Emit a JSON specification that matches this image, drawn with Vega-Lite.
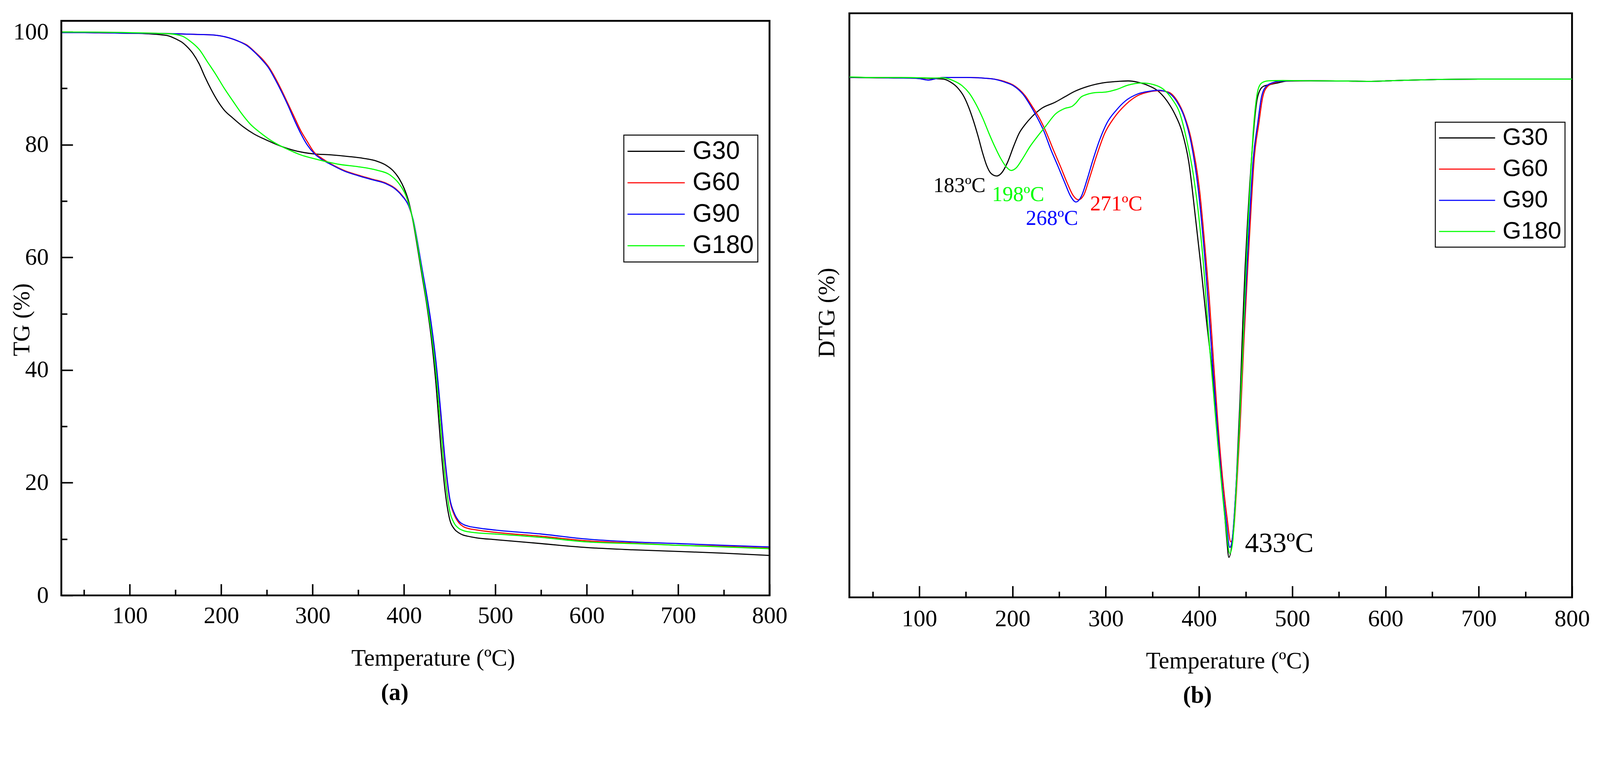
{
  "$schema": "https://vega.github.io/schema/vega-lite/v6.json",
  "background": "white",
  "padding": {"left": 26, "top": 31, "right": 0, "bottom": 0},
  "config": {
    "font": "Liberation Serif",
    "axis": {
      "labelFont": "Liberation Serif", "labelFontSize": 60.5, "labelColor": "black", "labelFlush": false, "labelOverlap": false,
      "titleFont": "Liberation Serif", "titleFontSize": 60.5, "titleFontWeight": "normal", "titleColor": "black",
      "grid": false, "domain": false, "tickColor": "black", "tickWidth": 3.8
    },
    "legend": {"labelFont": "Liberation Sans", "labelColor": "black", "labelLimit": 0, "strokeColor": "black", "strokeWidth": 2.4}
  },
  "datasets": {
    "tg": [
      {"s":"G30","T":25,"v":99.9},{"s":"G30","T":50,"v":99.9},{"s":"G30","T":80,"v":99.85},{"s":"G30","T":100,"v":99.8},{"s":"G30","T":120,"v":99.7},{"s":"G30","T":135,"v":99.5},{"s":"G30","T":143,"v":99.3},{"s":"G30","T":152,"v":98.65},{"s":"G30","T":157,"v":98.2},{"s":"G30","T":162,"v":97.5},{"s":"G30","T":169,"v":96.2},{"s":"G30","T":176,"v":94.3},{"s":"G30","T":182,"v":92.1},{"s":"G30","T":189,"v":89.8},{"s":"G30","T":196,"v":87.8},{"s":"G30","T":203,"v":86.2},{"s":"G30","T":213,"v":84.7},{"s":"G30","T":224,"v":83.2},{"s":"G30","T":236,"v":81.9},{"s":"G30","T":250,"v":80.8},{"s":"G30","T":266,"v":79.7},{"s":"G30","T":282,"v":78.9},{"s":"G30","T":300,"v":78.4},{"s":"G30","T":320,"v":78.2},{"s":"G30","T":340,"v":77.9},{"s":"G30","T":355,"v":77.6},{"s":"G30","T":370,"v":77.1},{"s":"G30","T":380,"v":76.4},{"s":"G30","T":388,"v":75.4},{"s":"G30","T":395,"v":73.9},{"s":"G30","T":400,"v":72.3},{"s":"G30","T":405,"v":70.0},{"s":"G30","T":410,"v":66.3},{"s":"G30","T":415,"v":61.5},{"s":"G30","T":420,"v":56.5},{"s":"G30","T":425,"v":51.5},{"s":"G30","T":430,"v":45.5},{"s":"G30","T":435,"v":37.5},{"s":"G30","T":440,"v":27.0},{"s":"G30","T":445,"v":18.5},{"s":"G30","T":450,"v":13.5},{"s":"G30","T":455,"v":11.8},{"s":"G30","T":460,"v":11.1},{"s":"G30","T":465,"v":10.7},{"s":"G30","T":470,"v":10.5},{"s":"G30","T":480,"v":10.2},{"s":"G30","T":500,"v":9.9},{"s":"G30","T":550,"v":9.2},{"s":"G30","T":600,"v":8.5},{"s":"G30","T":650,"v":8.1},{"s":"G30","T":700,"v":7.8},{"s":"G30","T":750,"v":7.5},{"s":"G30","T":800,"v":7.1},
      {"s":"G60","T":25,"v":99.9},{"s":"G60","T":50,"v":99.9},{"s":"G60","T":100,"v":99.8},{"s":"G60","T":150,"v":99.7},{"s":"G60","T":170,"v":99.6},{"s":"G60","T":190,"v":99.5},{"s":"G60","T":208,"v":99.0},{"s":"G60","T":220,"v":98.3},{"s":"G60","T":229,"v":97.6},{"s":"G60","T":238,"v":96.3},{"s":"G60","T":245,"v":95.2},{"s":"G60","T":252,"v":93.8},{"s":"G60","T":259,"v":91.9},{"s":"G60","T":266,"v":89.7},{"s":"G60","T":273,"v":87.3},{"s":"G60","T":280,"v":84.9},{"s":"G60","T":287,"v":82.5},{"s":"G60","T":294,"v":80.6},{"s":"G60","T":302,"v":78.6},{"s":"G60","T":310,"v":77.6},{"s":"G60","T":320,"v":76.6},{"s":"G60","T":335,"v":75.4},{"s":"G60","T":350,"v":74.6},{"s":"G60","T":365,"v":73.9},{"s":"G60","T":380,"v":73.2},{"s":"G60","T":390,"v":72.3},{"s":"G60","T":398,"v":71.0},{"s":"G60","T":405,"v":69.2},{"s":"G60","T":410,"v":66.6},{"s":"G60","T":415,"v":62.3},{"s":"G60","T":420,"v":57.5},{"s":"G60","T":425,"v":52.8},{"s":"G60","T":430,"v":47.5},{"s":"G60","T":435,"v":41.0},{"s":"G60","T":440,"v":32.5},{"s":"G60","T":445,"v":23.5},{"s":"G60","T":450,"v":17.0},{"s":"G60","T":455,"v":14.3},{"s":"G60","T":460,"v":12.9},{"s":"G60","T":465,"v":12.2},{"s":"G60","T":470,"v":11.9},{"s":"G60","T":480,"v":11.6},{"s":"G60","T":500,"v":11.2},{"s":"G60","T":550,"v":10.5},{"s":"G60","T":600,"v":9.7},{"s":"G60","T":650,"v":9.3},{"s":"G60","T":700,"v":8.9},{"s":"G60","T":750,"v":8.7},{"s":"G60","T":800,"v":8.4},
      {"s":"G90","T":25,"v":99.9},{"s":"G90","T":50,"v":99.9},{"s":"G90","T":100,"v":99.8},{"s":"G90","T":150,"v":99.7},{"s":"G90","T":170,"v":99.6},{"s":"G90","T":190,"v":99.5},{"s":"G90","T":208,"v":99.0},{"s":"G90","T":220,"v":98.3},{"s":"G90","T":229,"v":97.5},{"s":"G90","T":238,"v":96.2},{"s":"G90","T":245,"v":95.0},{"s":"G90","T":252,"v":93.6},{"s":"G90","T":259,"v":91.6},{"s":"G90","T":266,"v":89.4},{"s":"G90","T":273,"v":87.0},{"s":"G90","T":280,"v":84.4},{"s":"G90","T":287,"v":82.0},{"s":"G90","T":294,"v":80.0},{"s":"G90","T":302,"v":78.4},{"s":"G90","T":310,"v":77.4},{"s":"G90","T":320,"v":76.5},{"s":"G90","T":335,"v":75.3},{"s":"G90","T":350,"v":74.5},{"s":"G90","T":365,"v":73.8},{"s":"G90","T":380,"v":73.1},{"s":"G90","T":390,"v":72.2},{"s":"G90","T":398,"v":70.9},{"s":"G90","T":405,"v":69.2},{"s":"G90","T":410,"v":66.7},{"s":"G90","T":415,"v":62.5},{"s":"G90","T":420,"v":57.8},{"s":"G90","T":425,"v":53.2},{"s":"G90","T":430,"v":48.0},{"s":"G90","T":435,"v":41.5},{"s":"G90","T":440,"v":33.0},{"s":"G90","T":445,"v":24.0},{"s":"G90","T":450,"v":17.3},{"s":"G90","T":455,"v":14.6},{"s":"G90","T":460,"v":13.2},{"s":"G90","T":465,"v":12.6},{"s":"G90","T":470,"v":12.3},{"s":"G90","T":480,"v":12.0},{"s":"G90","T":500,"v":11.6},{"s":"G90","T":550,"v":10.9},{"s":"G90","T":600,"v":10.0},{"s":"G90","T":650,"v":9.5},{"s":"G90","T":700,"v":9.2},{"s":"G90","T":750,"v":8.9},{"s":"G90","T":800,"v":8.6},
      {"s":"G180","T":25,"v":100.0},{"s":"G180","T":50,"v":100.0},{"s":"G180","T":100,"v":99.9},{"s":"G180","T":143,"v":99.7},{"s":"G180","T":157,"v":99.3},{"s":"G180","T":166,"v":98.4},{"s":"G180","T":176,"v":96.9},{"s":"G180","T":185,"v":94.7},{"s":"G180","T":194,"v":92.5},{"s":"G180","T":203,"v":90.1},{"s":"G180","T":213,"v":87.7},{"s":"G180","T":222,"v":85.6},{"s":"G180","T":231,"v":83.8},{"s":"G180","T":243,"v":82.1},{"s":"G180","T":254,"v":80.8},{"s":"G180","T":266,"v":79.7},{"s":"G180","T":278,"v":78.8},{"s":"G180","T":287,"v":78.2},{"s":"G180","T":300,"v":77.6},{"s":"G180","T":315,"v":77.0},{"s":"G180","T":330,"v":76.5},{"s":"G180","T":350,"v":76.1},{"s":"G180","T":370,"v":75.5},{"s":"G180","T":385,"v":74.6},{"s":"G180","T":395,"v":73.0},{"s":"G180","T":402,"v":71.0},{"s":"G180","T":405,"v":69.6},{"s":"G180","T":410,"v":66.5},{"s":"G180","T":415,"v":62.0},{"s":"G180","T":420,"v":57.0},{"s":"G180","T":425,"v":52.0},{"s":"G180","T":430,"v":46.5},{"s":"G180","T":435,"v":39.5},{"s":"G180","T":440,"v":30.0},{"s":"G180","T":445,"v":21.0},{"s":"G180","T":450,"v":15.0},{"s":"G180","T":455,"v":12.8},{"s":"G180","T":460,"v":11.9},{"s":"G180","T":465,"v":11.5},{"s":"G180","T":470,"v":11.3},{"s":"G180","T":480,"v":11.1},{"s":"G180","T":500,"v":10.9},{"s":"G180","T":550,"v":10.3},{"s":"G180","T":600,"v":9.5},{"s":"G180","T":650,"v":9.2},{"s":"G180","T":700,"v":8.9},{"s":"G180","T":750,"v":8.6},{"s":"G180","T":800,"v":8.3}
    ],
    "dtg": [
      {"s":"G30","T":25,"v":0.0},{"s":"G30","T":50,"v":-0.005},{"s":"G30","T":80,"v":-0.01},{"s":"G30","T":100,"v":-0.01},{"s":"G30","T":115,"v":-0.02},{"s":"G30","T":126,"v":-0.03},{"s":"G30","T":133,"v":-0.078},{"s":"G30","T":141,"v":-0.185},{"s":"G30","T":148,"v":-0.35},{"s":"G30","T":153,"v":-0.54},{"s":"G30","T":158,"v":-0.78},{"s":"G30","T":163,"v":-1.06},{"s":"G30","T":168,"v":-1.37},{"s":"G30","T":172,"v":-1.58},{"s":"G30","T":177,"v":-1.735},{"s":"G30","T":183,"v":-1.78},{"s":"G30","T":188.5,"v":-1.72},{"s":"G30","T":194.7,"v":-1.53},{"s":"G30","T":201,"v":-1.25},{"s":"G30","T":207,"v":-1.01},{"s":"G30","T":213.5,"v":-0.85},{"s":"G30","T":221,"v":-0.705},{"s":"G30","T":231,"v":-0.56},{"s":"G30","T":246,"v":-0.445},{"s":"G30","T":256,"v":-0.35},{"s":"G30","T":266,"v":-0.256},{"s":"G30","T":281,"v":-0.16},{"s":"G30","T":296,"v":-0.1},{"s":"G30","T":311,"v":-0.073},{"s":"G30","T":324,"v":-0.062},{"s":"G30","T":334,"v":-0.085},{"s":"G30","T":346,"v":-0.15},{"s":"G30","T":356,"v":-0.244},{"s":"G30","T":366.5,"v":-0.445},{"s":"G30","T":374,"v":-0.66},{"s":"G30","T":381.5,"v":-0.966},{"s":"G30","T":389,"v":-1.53},{"s":"G30","T":396.6,"v":-2.6},{"s":"G30","T":401.6,"v":-3.35},{"s":"G30","T":408,"v":-4.4},{"s":"G30","T":414,"v":-5.3},{"s":"G30","T":418,"v":-6.1},{"s":"G30","T":422,"v":-6.9},{"s":"G30","T":426,"v":-7.6},{"s":"G30","T":429.5,"v":-8.3},{"s":"G30","T":432,"v":-8.67},{"s":"G30","T":436,"v":-8.3},{"s":"G30","T":440,"v":-7.3},{"s":"G30","T":444,"v":-5.8},{"s":"G30","T":447,"v":-4.4},{"s":"G30","T":449.5,"v":-3.4},{"s":"G30","T":452,"v":-2.6},{"s":"G30","T":454.5,"v":-1.9},{"s":"G30","T":457,"v":-1.3},{"s":"G30","T":459.5,"v":-0.78},{"s":"G30","T":462,"v":-0.42},{"s":"G30","T":465,"v":-0.24},{"s":"G30","T":469,"v":-0.16},{"s":"G30","T":477,"v":-0.125},{"s":"G30","T":484,"v":-0.1},{"s":"G30","T":494,"v":-0.066},{"s":"G30","T":520,"v":-0.06},{"s":"G30","T":560,"v":-0.065},{"s":"G30","T":580,"v":-0.07},{"s":"G30","T":620,"v":-0.05},{"s":"G30","T":660,"v":-0.035},{"s":"G30","T":700,"v":-0.03},{"s":"G30","T":800,"v":-0.03},
      {"s":"G60","T":25,"v":0.005},{"s":"G60","T":40,"v":0.0},{"s":"G60","T":60,"v":-0.005},{"s":"G60","T":90,"v":-0.01},{"s":"G60","T":100,"v":-0.02},{"s":"G60","T":110,"v":-0.045},{"s":"G60","T":118,"v":-0.02},{"s":"G60","T":126,"v":0.0},{"s":"G60","T":151,"v":0.0},{"s":"G60","T":176,"v":-0.02},{"s":"G60","T":191,"v":-0.07},{"s":"G60","T":201,"v":-0.14},{"s":"G60","T":213.5,"v":-0.33},{"s":"G60","T":221,"v":-0.52},{"s":"G60","T":228.6,"v":-0.73},{"s":"G60","T":236.1,"v":-0.99},{"s":"G60","T":243.6,"v":-1.3},{"s":"G60","T":251.2,"v":-1.6},{"s":"G60","T":258.7,"v":-1.91},{"s":"G60","T":264.9,"v":-2.13},{"s":"G60","T":270.7,"v":-2.21},{"s":"G60","T":276.2,"v":-2.13},{"s":"G60","T":282.5,"v":-1.82},{"s":"G60","T":290,"v":-1.42},{"s":"G60","T":298.8,"v":-1.01},{"s":"G60","T":308.8,"v":-0.73},{"s":"G60","T":321.3,"v":-0.49},{"s":"G60","T":333.9,"v":-0.33},{"s":"G60","T":346.4,"v":-0.26},{"s":"G60","T":356.4,"v":-0.24},{"s":"G60","T":366.5,"v":-0.26},{"s":"G60","T":376.5,"v":-0.42},{"s":"G60","T":384,"v":-0.68},{"s":"G60","T":391.5,"v":-1.11},{"s":"G60","T":400.3,"v":-2.0},{"s":"G60","T":407.8,"v":-3.35},{"s":"G60","T":411,"v":-4.0},{"s":"G60","T":415,"v":-5.0},{"s":"G60","T":420,"v":-6.2},{"s":"G60","T":425,"v":-7.2},{"s":"G60","T":430,"v":-7.95},{"s":"G60","T":434,"v":-8.39},{"s":"G60","T":437,"v":-8.2},{"s":"G60","T":440,"v":-7.5},{"s":"G60","T":444,"v":-6.3},{"s":"G60","T":448,"v":-4.8},{"s":"G60","T":452.5,"v":-3.35},{"s":"G60","T":456,"v":-2.3},{"s":"G60","T":459,"v":-1.5},{"s":"G60","T":464.2,"v":-0.82},{"s":"G60","T":468,"v":-0.38},{"s":"G60","T":473,"v":-0.17},{"s":"G60","T":480,"v":-0.1},{"s":"G60","T":487,"v":-0.07},{"s":"G60","T":500,"v":-0.06},{"s":"G60","T":520,"v":-0.06},{"s":"G60","T":560,"v":-0.065},{"s":"G60","T":580,"v":-0.07},{"s":"G60","T":620,"v":-0.05},{"s":"G60","T":660,"v":-0.035},{"s":"G60","T":700,"v":-0.03},{"s":"G60","T":800,"v":-0.03},
      {"s":"G90","T":25,"v":0.005},{"s":"G90","T":40,"v":0.0},{"s":"G90","T":60,"v":-0.005},{"s":"G90","T":90,"v":-0.01},{"s":"G90","T":100,"v":-0.02},{"s":"G90","T":110,"v":-0.047},{"s":"G90","T":118,"v":-0.02},{"s":"G90","T":126,"v":0.0},{"s":"G90","T":151,"v":0.0},{"s":"G90","T":176,"v":-0.02},{"s":"G90","T":191,"v":-0.08},{"s":"G90","T":201,"v":-0.15},{"s":"G90","T":211,"v":-0.3},{"s":"G90","T":218.6,"v":-0.49},{"s":"G90","T":226,"v":-0.71},{"s":"G90","T":233.6,"v":-0.97},{"s":"G90","T":241,"v":-1.3},{"s":"G90","T":248.6,"v":-1.6},{"s":"G90","T":256.2,"v":-1.91},{"s":"G90","T":262.4,"v":-2.15},{"s":"G90","T":268,"v":-2.25},{"s":"G90","T":273.7,"v":-2.15},{"s":"G90","T":280,"v":-1.84},{"s":"G90","T":286.2,"v":-1.49},{"s":"G90","T":293.8,"v":-1.11},{"s":"G90","T":301.3,"v":-0.82},{"s":"G90","T":311.3,"v":-0.59},{"s":"G90","T":321.3,"v":-0.42},{"s":"G90","T":333.9,"v":-0.3},{"s":"G90","T":346.4,"v":-0.25},{"s":"G90","T":356.4,"v":-0.23},{"s":"G90","T":366.5,"v":-0.27},{"s":"G90","T":376.5,"v":-0.445},{"s":"G90","T":384,"v":-0.705},{"s":"G90","T":391.5,"v":-1.18},{"s":"G90","T":399,"v":-2.0},{"s":"G90","T":406.6,"v":-3.35},{"s":"G90","T":410,"v":-4.1},{"s":"G90","T":415,"v":-5.3},{"s":"G90","T":420,"v":-6.4},{"s":"G90","T":425,"v":-7.4},{"s":"G90","T":429,"v":-8.0},{"s":"G90","T":433,"v":-8.49},{"s":"G90","T":436,"v":-8.3},{"s":"G90","T":439,"v":-7.6},{"s":"G90","T":443,"v":-6.4},{"s":"G90","T":447,"v":-4.9},{"s":"G90","T":451.7,"v":-3.35},{"s":"G90","T":455,"v":-2.3},{"s":"G90","T":458,"v":-1.5},{"s":"G90","T":463,"v":-0.82},{"s":"G90","T":467,"v":-0.35},{"s":"G90","T":472,"v":-0.16},{"s":"G90","T":478,"v":-0.1},{"s":"G90","T":485,"v":-0.07},{"s":"G90","T":500,"v":-0.06},{"s":"G90","T":520,"v":-0.06},{"s":"G90","T":560,"v":-0.065},{"s":"G90","T":580,"v":-0.07},{"s":"G90","T":620,"v":-0.05},{"s":"G90","T":660,"v":-0.035},{"s":"G90","T":700,"v":-0.03},{"s":"G90","T":800,"v":-0.03},
      {"s":"G180","T":25,"v":0.01},{"s":"G180","T":50,"v":0.0},{"s":"G180","T":80,"v":0.0},{"s":"G180","T":100,"v":-0.005},{"s":"G180","T":115,"v":-0.01},{"s":"G180","T":126,"v":-0.007},{"s":"G180","T":136,"v":-0.054},{"s":"G180","T":146,"v":-0.15},{"s":"G180","T":153.4,"v":-0.28},{"s":"G180","T":161,"v":-0.49},{"s":"G180","T":168.4,"v":-0.75},{"s":"G180","T":174.7,"v":-1.01},{"s":"G180","T":181,"v":-1.25},{"s":"G180","T":187.2,"v":-1.46},{"s":"G180","T":193.5,"v":-1.62},{"s":"G180","T":198.5,"v":-1.68},{"s":"G180","T":203.5,"v":-1.64},{"s":"G180","T":211,"v":-1.46},{"s":"G180","T":218.6,"v":-1.25},{"s":"G180","T":226,"v":-1.08},{"s":"G180","T":236,"v":-0.87},{"s":"G180","T":246,"v":-0.66},{"s":"G180","T":256,"v":-0.56},{"s":"G180","T":264,"v":-0.52},{"s":"G180","T":268,"v":-0.46},{"s":"G180","T":273,"v":-0.36},{"s":"G180","T":279,"v":-0.31},{"s":"G180","T":286,"v":-0.28},{"s":"G180","T":301,"v":-0.26},{"s":"G180","T":311,"v":-0.22},{"s":"G180","T":324,"v":-0.137},{"s":"G180","T":339,"v":-0.1},{"s":"G180","T":351.4,"v":-0.13},{"s":"G180","T":361.5,"v":-0.21},{"s":"G180","T":371.5,"v":-0.4},{"s":"G180","T":379,"v":-0.63},{"s":"G180","T":386.5,"v":-1.11},{"s":"G180","T":394,"v":-1.77},{"s":"G180","T":400.3,"v":-2.6},{"s":"G180","T":404.6,"v":-3.35},{"s":"G180","T":410,"v":-4.6},{"s":"G180","T":415,"v":-5.6},{"s":"G180","T":420,"v":-6.6},{"s":"G180","T":425,"v":-7.5},{"s":"G180","T":429,"v":-8.15},{"s":"G180","T":433,"v":-8.6},{"s":"G180","T":436,"v":-8.4},{"s":"G180","T":439,"v":-7.7},{"s":"G180","T":443,"v":-6.4},{"s":"G180","T":447,"v":-4.9},{"s":"G180","T":450.5,"v":-3.4},{"s":"G180","T":453,"v":-2.5},{"s":"G180","T":455.5,"v":-1.7},{"s":"G180","T":458,"v":-1.0},{"s":"G180","T":461,"v":-0.45},{"s":"G180","T":464,"v":-0.18},{"s":"G180","T":468,"v":-0.09},{"s":"G180","T":475,"v":-0.06},{"s":"G180","T":490,"v":-0.055},{"s":"G180","T":520,"v":-0.06},{"s":"G180","T":560,"v":-0.065},{"s":"G180","T":580,"v":-0.07},{"s":"G180","T":620,"v":-0.05},{"s":"G180","T":660,"v":-0.035},{"s":"G180","T":700,"v":-0.03},{"s":"G180","T":800,"v":-0.03}
    ],
    "peaks": [
      {"label":"183ºC","s":"G30","T":143,"v":-1.957},
      {"label":"198ºC","s":"G180","T":206,"v":-2.12},
      {"label":"268ºC","s":"G90","T":242.3,"v":-2.547},
      {"label":"271ºC","s":"G60","T":311.2,"v":-2.29}
    ],
    "mainpeak": [
      {"label":"433ºC","s":"G30","T":486,"v":-8.43}
    ]
  },
  "hconcat": [
    {
      "width": 1813,
      "height": 1491,
      "view": {"stroke": null},
      "title": {"text": "(a)", "orient": "bottom", "font": "Liberation Serif", "fontSize": 60.5, "fontWeight": "bold", "color": "black", "dx": -53, "offset": 28},
      "layer": [
        {
          "data": {"name": "tg"},
          "mark": {"type": "line", "interpolate": "monotone", "strokeWidth": 2.8},
          "encoding": {
            "x": {"field": "T", "type": "quantitative", "scale": {"domain": [25, 800], "nice": false, "zero": false},
              "axis": {"orient": "bottom", "values": [100, 200, 300, 400, 500, 600, 700, 800], "tickSize": -29.3, "labelPadding": 52,
                "title": "Temperature (ºC)", "titleX": 951.6, "titleY": 179.6, "titleBaseline": "alphabetic"}},
            "y": {"field": "v", "type": "quantitative", "scale": {"domain": [0, 103.34], "nice": false},
              "axis": {"orient": "left", "values": [0, 20, 40, 60, 80, 100], "tickSize": -29.3, "labelPadding": 62,
                "title": "TG (%)", "titleX": -82.2, "titleY": 784.4, "titleBaseline": "alphabetic"}},
            "color": {"field": "s", "type": "nominal",
              "scale": {"domain": ["G30", "G60", "G90", "G180"], "range": ["#000000", "#ff0000", "#0000ff", "#00ff00"]},
              "legend": {"title": null, "orient": "none", "legendX": 1440, "legendY": 312, "padding": 9.5,
                "symbolType": "M-3.2,0H11.45", "symbolSize": 400, "symbolStrokeWidth": 2.8, "labelOffset": 102.5,
                "labelFontSize": 64, "rowPadding": 16.6}}
          }
        },
        {
          "data": {"values": [{}]},
          "mark": {"type": "rect", "fillOpacity": 0, "stroke": "black", "strokeWidth": 4.7},
          "encoding": {
            "x": {"datum": 25, "type": "quantitative",
              "axis": {"orient": "bottom", "values": [50, 150, 250, 350, 450, 550, 650, 750], "tickSize": -15, "labels": false, "title": null}},
            "x2": {"datum": 800},
            "y": {"datum": 0, "type": "quantitative",
              "axis": {"orient": "left", "values": [10, 30, 50, 70, 90], "tickSize": -15, "labels": false, "title": null}},
            "y2": {"datum": 102}
          }
        }
      ],
      "resolve": {"axis": {"x": "independent", "y": "independent"}}
    },
    {
      "width": 1850,
      "height": 1496,
      "view": {"stroke": "black", "strokeWidth": 4.7},
      "title": {"text": "(b)", "orient": "bottom", "font": "Liberation Serif", "fontSize": 60.5, "fontWeight": "bold", "color": "black", "dx": -34, "offset": 28},
      "layer": [
        {
          "data": {"name": "dtg"},
          "mark": {"type": "line", "interpolate": "monotone", "strokeWidth": 2.8},
          "encoding": {
            "x": {"field": "T", "type": "quantitative", "scale": {"domain": [25, 800], "nice": false, "zero": false},
              "axis": {"orient": "bottom", "values": [100, 200, 300, 400, 500, 600, 700, 800], "tickSize": -29.3, "labelPadding": 55,
                "title": "Temperature (ºC)", "titleX": 968.6, "titleY": 181.4, "titleBaseline": "alphabetic"}},
            "y": {"field": "v", "type": "quantitative", "scale": {"domain": [-9.393, 1.16], "nice": false, "zero": false},
              "axis": {"orient": "left", "labels": false, "ticks": false,
                "title": "DTG (%)", "titleX": -38.7, "titleY": 766.4, "titleBaseline": "alphabetic"}},
            "color": {"field": "s", "type": "nominal",
              "scale": {"domain": ["G30", "G60", "G90", "G180"], "range": ["#000000", "#ff0000", "#0000ff", "#00ff00"]},
              "legend": {"title": null, "orient": "none", "legendX": 1500, "legendY": 279, "padding": 9.5,
                "symbolType": "M-3.075,0H11.285", "symbolSize": 400, "symbolStrokeWidth": 2.8, "labelOffset": 101,
                "labelFontSize": 61.5, "rowPadding": 16.9}}
          }
        },
        {
          "data": {"name": "peaks"},
          "mark": {"type": "text", "font": "Liberation Serif", "fontSize": 54, "align": "center", "baseline": "middle"},
          "encoding": {
            "x": {"field": "T", "type": "quantitative",
              "axis": {"orient": "bottom", "values": [50, 150, 250, 350, 450, 550, 650, 750], "tickSize": -15, "labels": false, "title": null}},
            "y": {"field": "v", "type": "quantitative", "axis": null},
            "text": {"field": "label"},
            "color": {"field": "s", "type": "nominal", "legend": null}
          }
        },
        {
          "data": {"name": "mainpeak"},
          "mark": {"type": "text", "font": "Liberation Serif", "fontSize": 71, "align": "center", "baseline": "middle"},
          "encoding": {
            "x": {"field": "T", "type": "quantitative", "axis": null},
            "y": {"field": "v", "type": "quantitative", "axis": null},
            "text": {"field": "label"},
            "color": {"field": "s", "type": "nominal", "legend": null}
          }
        }
      ],
      "resolve": {"axis": {"x": "independent", "y": "independent"}}
    }
  ],
  "spacing": 68.4,
  "resolve": {"scale": {"color": "independent"}, "legend": {"color": "independent"}}
}
